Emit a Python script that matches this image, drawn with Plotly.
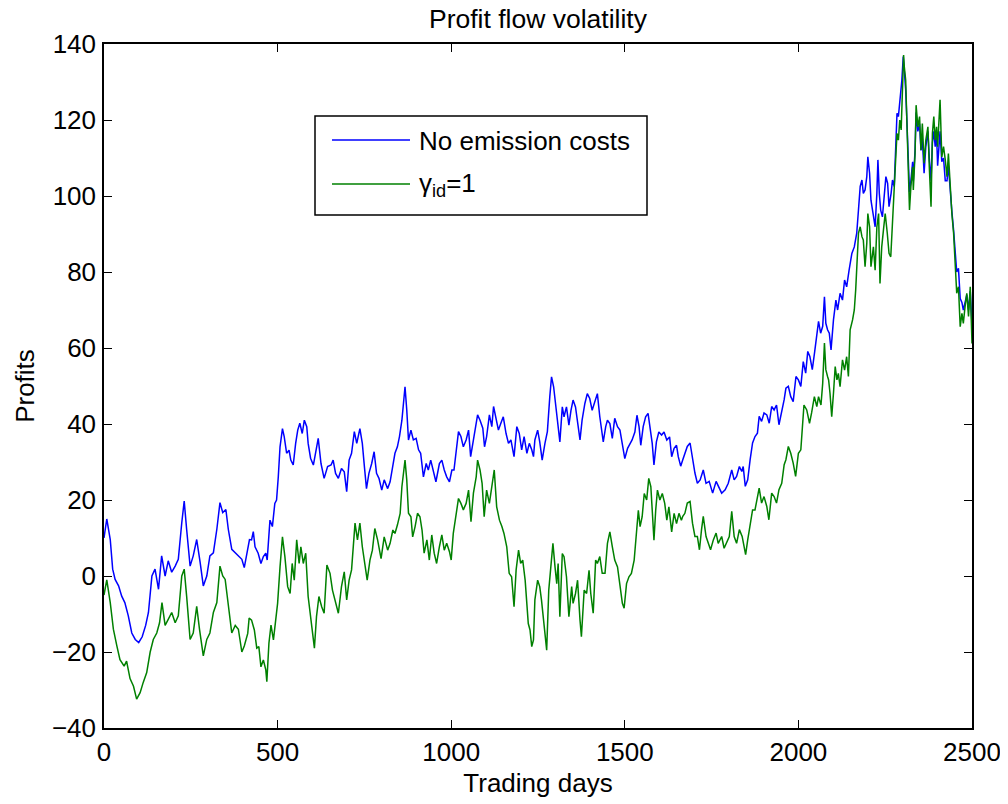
import plotly.graph_objects as go

# ---------------- data ----------------
blue_days = [0, 8, 18, 25, 32, 42, 51, 60, 70, 80, 90, 100, 110, 120, 128, 138, 147, 157, 166, 176, 185, 195, 205, 214, 224, 231, 238, 248, 257, 267, 277, 286, 296, 305, 315, 325, 334, 342, 351, 358, 368, 378, 387, 397, 404, 411, 419,
             425, 430, 435, 444, 452, 459, 466, 470, 478, 485, 492, 497, 502, 507, 514, 519, 526, 533, 538, 545, 552, 558, 564, 571, 577, 584, 588, 595, 603, 610, 617, 625, 634, 644, 654, 660, 667, 675, 684, 692, 699, 706, 713, 721, 728, 737, 744, 750, 756, 763, 771, 778, 785, 792, 800, 807, 817, 824,
             832, 838, 845, 851, 858, 862, 867, 872, 877, 884, 891, 899, 906, 912, 920, 928, 934, 941, 949, 956, 966, 973, 980, 987, 995, 1002, 1008, 1016, 1021, 1028, 1035, 1043, 1050, 1056, 1064, 1072, 1076, 1083, 1091, 1096, 1102, 1110, 1117, 1122, 1129, 1136, 1143, 1150, 1158, 1165, 1172, 1181, 1189, 1196, 1203, 1210, 1218, 1225, 1232, 1237,
             1241, 1249, 1255, 1262, 1270, 1277, 1284, 1289, 1295, 1301, 1306, 1313, 1320, 1325, 1332, 1339, 1345, 1351, 1358, 1364, 1371, 1377, 1385, 1392, 1399, 1406, 1414, 1421, 1428, 1438, 1445, 1450, 1457, 1464, 1471, 1479, 1486, 1493, 1500, 1508, 1515, 1521, 1529, 1535, 1541, 1546, 1553, 1560, 1567, 1575, 1579, 1584, 1591, 1598, 1606, 1613, 1621, 1629, 1635, 1642, 1649, 1654,
             1661, 1667, 1673, 1680, 1688, 1695, 1702, 1709, 1717, 1726, 1734, 1743, 1753, 1763, 1769, 1779, 1789, 1798, 1808, 1815, 1822, 1830, 1837, 1841, 1847, 1854, 1861, 1868, 1875, 1882, 1887, 1894, 1901, 1909, 1916, 1923, 1930, 1937, 1944, 1952, 1959, 1964, 1971, 1978, 1985, 1993, 2000, 2007, 2014, 2021, 2027, 2033, 2040, 2047, 2053, 2058, 2064, 2070, 2075, 2079,
             2084, 2089, 2094, 2101, 2108, 2113, 2120, 2127, 2133, 2139, 2146, 2154, 2161, 2168, 2173, 2178, 2183, 2187, 2192, 2197, 2200, 2205, 2209, 2216, 2221, 2226, 2229, 2233, 2237, 2242, 2246, 2252, 2257, 2261, 2267, 2271, 2276, 2281, 2284, 2288, 2293, 2298, 2302,
             2305, 2309, 2312, 2317, 2320, 2324, 2329, 2331, 2336, 2339, 2344, 2349, 2353, 2357, 2362, 2367, 2373, 2377, 2382, 2386, 2390, 2394, 2398, 2401, 2405, 2408, 2413, 2418, 2423, 2428, 2432, 2437, 2442, 2447, 2451, 2456, 2461, 2466, 2471, 2475, 2480, 2485, 2490, 2495, 2500]
blue_profit = [10, 15, 9.6, 1.8, -0.9, -2.6, -5.3, -7, -10.5, -15, -16.7, -17.5, -16, -13, -9.6, 0, 1.8, -3.5, 5.3, 0, 4, 1, 2.6, 4.4, 14, 19.7, 12.3, 2.6, 5.3, 9.6, 3.5, -2.6, 0, 5.3, 6.1, 12.3, 19.3, 16.7, 17.5, 12.3, 7, 6.1, 5.3, 4.4, 2.2, 6.1, 9.6,
               9.5, 11.7, 7.7, 6, 3.3, 5.1, 6, 4.2, 14.7, 13, 19.1, 20, 26.1, 34, 38.8, 36.7, 32.3, 33.1, 30.5, 29.2, 34.9, 38.4, 40.2, 37.5, 41, 39.3, 34.9, 31, 29.2, 32.3, 36.2, 29.6, 25.7, 28.8, 29.2, 30.5, 27, 25.7, 28.3, 27.4, 22.2, 30.5, 32.3, 38, 34.9, 38.8, 34.9, 28.8, 23, 27, 29.6, 32.7, 27, 25.7, 22.6, 25.3, 23, 24.8,
               28.8, 32.3, 34, 36.7, 41, 45.4, 49.8, 43.7, 35.8, 38.4, 35.8, 36.2, 33.2, 32.3, 26.1, 29.6, 27.9, 30.5, 27, 24.8, 29.6, 30.5, 27.9, 26.1, 24.8, 27.9, 27.9, 34.9, 38, 36.7, 34, 35.8, 38.4, 31.4, 35.8, 39.3, 42.4, 41, 38.9, 34, 36.7, 42.4, 39.3, 44.6, 41, 38.4, 40.2, 41.9, 37.5, 34.9, 35.8, 31.4, 39.3, 37.5, 33.2, 36.7, 32.3, 34.9, 33.2, 31.4,
               35.8, 38.4, 35.3, 30.5, 34.9, 38, 47.2, 52.4, 49.8, 44.5, 41, 35.3, 44.5, 41.9, 44.5, 39.7, 43.6, 46.3, 44.5, 41, 35.8, 41, 45.4, 48, 46.7, 43.6, 45.8, 48, 41.9, 35.3, 39.3, 41, 40.1, 36.2, 41.5, 39.3, 38.4, 34.9, 30.9, 33.6, 34.9, 35.8, 37.9, 42.3, 39.3, 34.4, 39.3, 41.9, 42.8, 37.5, 34.9, 29.2, 35.3, 37.9, 37.1, 37.9, 35.8, 36.6, 31.4, 33.6, 34.4, 31.4,
               28.9, 30.6, 32.3, 34.1, 35, 30.6, 27.1, 24.4, 25.3, 27.9, 24.4, 24.9, 21.8, 24.9, 23.6, 21.8, 22.7, 24.4, 27.9, 25.3, 26.2, 28.8, 27.5, 28.8, 23.6, 25.3, 30.6, 35, 36.7, 37.6, 42, 40.7, 42.9, 42.4, 40.2, 44.6, 43.7, 45, 39.8, 42.9, 46.4, 49.4, 49.9, 47.2, 45.9, 52.5, 51.6, 49.9, 56.4, 53.4, 59.1, 57.8, 54.3, 59.1, 63.9, 67, 63.9, 65.7, 73.5, 66.5,
               64.8, 63.9, 59.5, 67.4, 72.6, 70, 74.4, 72.6, 77.9, 76.1, 80.5, 84.9, 86.6, 90.2, 96.3, 102.5, 104.2, 100.7, 101.6, 105.1, 110.3, 106, 98.9, 95.4, 91.9, 100.7, 109.5, 100.7, 96.3, 94.5, 98.9, 105.1, 103.3, 97.2, 100.7, 104.2, 102.5, 114.7, 121.8, 120.9, 125.3, 130.5, 136.7,
               133, 128, 121, 109, 101, 104, 109, 104, 112, 122, 117, 119, 112, 115, 106, 113, 117, 110, 104, 114, 117, 113, 116, 108, 114, 117, 109, 110, 104, 104, 108, 101, 96, 91, 85, 80, 81, 73, 72, 70, 72, 74, 70, 75, 66]

green_days = [0, 8, 18, 27, 37, 46, 58, 65, 75, 85, 94, 104, 113, 123, 133, 142, 152, 160, 167, 176, 185, 195, 205, 214, 224, 231, 238, 248, 257, 267, 275, 286, 296, 305, 315, 325, 334, 342, 349, 358, 368, 378, 387, 397, 404,
              414, 418, 425, 433, 440, 446, 452, 459, 466, 469, 475, 481, 488, 494, 500, 507, 514, 521, 529, 536, 542, 548, 555, 562, 567, 574, 581, 588, 596, 606, 612, 619, 627, 634, 642, 651, 658, 665, 675, 684, 692, 699, 706, 713, 723, 730, 737, 744, 752, 758, 766, 773, 780, 788, 798, 807, 817, 824,
              832, 838, 845, 853, 858, 862, 867, 872, 877, 884, 889, 896, 903, 910, 916, 922, 930, 937, 944, 951, 958, 966, 973, 980, 987, 995, 1000, 1006, 1014, 1021, 1028, 1035, 1043, 1050, 1057, 1064, 1072, 1076, 1083, 1089, 1095, 1102, 1110, 1117, 1124, 1131, 1139, 1146, 1152, 1160, 1167, 1174, 1181, 1187, 1194, 1200, 1206, 1213, 1218, 1222, 1227, 1232, 1237,
              1241, 1249, 1255, 1260, 1268, 1275, 1281, 1287, 1293, 1299, 1304, 1308, 1313, 1320, 1325, 1332, 1339, 1347, 1351, 1358, 1364, 1371, 1375, 1383, 1390, 1397, 1402, 1409, 1416, 1421, 1428, 1435, 1443, 1450, 1457, 1464, 1471, 1479, 1486, 1493, 1498, 1505, 1512, 1519, 1527, 1534, 1539, 1544, 1550, 1556, 1563, 1569, 1575, 1579, 1584, 1589, 1594, 1601, 1608, 1615, 1621, 1627, 1635, 1642, 1649, 1656,
              1663, 1667, 1673, 1680, 1688, 1695, 1702, 1709, 1715, 1721, 1726, 1734, 1741, 1747, 1755, 1763, 1769, 1779, 1786, 1793, 1801, 1808, 1815, 1822, 1830, 1838, 1843, 1848, 1854, 1861, 1868, 1875, 1882, 1887, 1894, 1901, 1909, 1915, 1923, 1930, 1937, 1944, 1952, 1959, 1964, 1971, 1978, 1985, 1992, 2000, 2007, 2012, 2016, 2024, 2032, 2038, 2046, 2053, 2058, 2065, 2070, 2075, 2079,
              2084, 2087, 2091, 2096, 2101, 2106, 2111, 2115, 2120, 2127, 2133, 2139, 2144, 2149, 2156, 2161, 2165, 2169, 2173, 2178, 2183, 2187, 2192, 2197, 2200, 2205, 2209, 2216, 2221, 2226, 2231, 2235, 2240, 2245, 2250, 2256, 2261, 2266, 2271, 2276, 2281, 2284, 2288, 2292, 2296, 2300, 2303,
              2305, 2309, 2312, 2317, 2320, 2324, 2329, 2331, 2336, 2339, 2344, 2349, 2353, 2357, 2362, 2367, 2373, 2377, 2382, 2386, 2390, 2394, 2398, 2401, 2405, 2408, 2413, 2418, 2423, 2428, 2432, 2437, 2442, 2447, 2451, 2456, 2461, 2466, 2471, 2475, 2480, 2485, 2490, 2495, 2500]
green_profit = [-5, -1, -7, -14, -18.4, -22, -23.7, -22.4, -27, -29, -32.4, -30.7, -28, -25.4, -20, -16.7, -15, -12.3, -7, -13, -11.4, -9.6, -12.3, -10.5, 0, 1.8, -5.3, -16.7, -15, -8, -14, -21, -16.7, -15, -9.6, -7, 2.6, 0, -0.9, -8, -15, -13, -14, -20, -18.4,
                -15.1, -11.1, -11.6, -14.2, -19, -18.6, -23.9, -22.1, -24.7, -27.8, -17.7, -12.9, -16.8, -11.6, -7.2, 2.4, 10.3, 5.1, -2.8, -4.6, 3.3, -1.1, 9.5, 3.3, 7.7, 3.3, 6, -5.4, -11.6, -19, -10.7, -5.4, -8.1, -9.8, 2.9, 0.7, -3.7, -6.3, -9.8, -2.8, 1.1, -6.3, -1.1, 1.6, 13.9, 9.5, 13.9, 7.7, 2.4, -1.1, 4.2, 6.8, 12.5, 9.5, 4.6, 10.3, 6.8, 8.6,
                12.1, 11.2, 13.4, 16.5, 23.5, 27, 30.5, 25.3, 16.5, 15.6, 10.3, 13, 16.5, 15.6, 12.1, 6, 9.5, 4.2, 10.8, 6, 3.3, 7.7, 10.8, 6.8, 8.6, 6.4, 4.2, 11.2, 15.6, 20.4, 19.1, 17.4, 19.1, 22.6, 14.3, 21.8, 26.1, 30.5, 27.9, 24.4, 15.6, 22.6, 19.1, 23.5, 27.9, 18.2, 14.7, 13, 11.2, 7.7, 0.7, -0.2, -8.1, 1.6, 6.8, 3.3, 4.2, -1.1, -7.2, -12.5, -14.2, -18.6, -16.8,
                -6.3, -1.1, -2.8, -6.3, -12.5, -19.5, -3.7, 3.3, 8.6, 2.4, -2, 3.3, -10.7, 5.9, 5.1, -0.2, -10.7, -2.8, -7.2, -4.6, -1.1, -11.6, -16, -3.7, -4.6, 1.5, -4.6, -9.8, 4.2, 3.3, 5.1, 0.7, 0.7, 8.6, 11.6, 7.7, 4.2, 2.4, -2.8, -7.2, -8.5, -2, -0.2, 0.7, 4.2, 11.2, 17.3, 13, 15.6, 21.7, 20, 25.7, 23.5, 17.3, 9.4, 17.3, 22.6, 20, 21.7, 19.1, 14.7, 18.2, 11.6, 16.5, 13.8, 16.5,
                14.7, 15.7, 16.5, 19.2, 19.6, 13.9, 10.4, 10.4, 6.9, 12.2, 15.7, 10.4, 8.6, 6.9, 9.5, 11.3, 8.6, 10.4, 7.3, 8.6, 10.4, 17, 10.4, 8.6, 12.2, 10.4, 7.8, 5.6, 9.5, 13.9, 17.4, 17.4, 20.9, 23.1, 19.2, 20.9, 18.3, 14.8, 21.8, 20.9, 19.2, 22.7, 24.4, 29.3, 30.6, 34.1, 32.3, 29.7, 26.2, 32.3, 33.2, 38.5, 45, 43.7, 40.2, 42.9, 47.2, 44.6, 47.2, 45, 50.7, 61.3, 54.3,
                52.5, 51.6, 48.1, 41.9, 48.1, 55.1, 51.6, 53.3, 49.8, 56.9, 54.2, 57.7, 52.5, 64.8, 67.4, 70, 75.3, 84, 90.2, 91.9, 89.3, 88.4, 81.4, 87.6, 95.4, 91.9, 81.4, 86.6, 80.5, 91.9, 95.4, 77, 86.6, 91.1, 95.4, 90.2, 84.9, 84, 92.8, 100.7, 107.7, 116.5, 114.7, 120, 117.4, 130.5, 137.1,
                134, 130.5, 120.9, 107.7, 96.3, 102.5, 107.7, 101.6, 111.2, 123.9, 118.2, 120.9, 112.1, 119.1, 108.6, 114.7, 118.2, 107.7, 97.2, 116.5, 120.9, 114.7, 118.2, 113, 119.1, 125.3, 110.3, 113, 109.5, 105.1, 111.2, 101.6, 95.4, 90.2, 83.2, 74.4, 76.1, 65.6, 69.1, 66.5, 70.9, 74.4, 68.3, 76.1, 61.2]

series_names = ["No emission costs", "γ<sub>id</sub>=1"]
x_ticks = [0, 500, 1000, 1500, 2000, 2500]
y_ticks = [-40, -20, 0, 20, 40, 60, 80, 100, 120, 140]

# ---------------- figure ----------------
FONT = "Liberation Sans, Arial, Helvetica, sans-serif"
BLUE = "#0000ff"
GREEN = "#008000"
FS = 26

fig = go.Figure()
fig.add_trace(go.Scatter(x=blue_days, y=blue_profit, mode="lines",
                         line=dict(color=BLUE, width=1.5), name="No emission costs", showlegend=False))
fig.add_trace(go.Scatter(x=green_days, y=green_profit, mode="lines",
                         line=dict(color=GREEN, width=1.5), name="gamma_id=1", showlegend=False))

axis_common = dict(showline=True, linecolor="black", linewidth=1.5, mirror="ticks",
                   ticks="inside", ticklen=8, tickwidth=1.2, tickcolor="black",
                   showgrid=False, zeroline=False, automargin=False,
                   tickfont=dict(family=FONT, size=FS, color="black"))

fig.update_xaxes(range=[0, 2500], tickvals=x_ticks, **axis_common,
                 title=dict(text="Trading days", font=dict(family=FONT, size=FS, color="black"), standoff=8))
fig.update_yaxes(range=[-40, 140], tickvals=y_ticks, **axis_common, ticklabelstandoff=1,
                 title=dict(text="Profits", font=dict(family=FONT, size=FS, color="black"), standoff=10))

# manual legend box (MATLAB style); positions relative to the plot area
def px2x(p):
    return (p - 104) / 868.0

def py2y(p):
    return (728 - p) / 684.0

shapes = [
    dict(type="rect", xref="paper", yref="paper", x0=px2x(315), x1=px2x(647), y0=py2y(215), y1=py2y(116),
         line=dict(color="black", width=1.5), fillcolor="white", layer="above"),
    dict(type="line", xref="paper", yref="paper", x0=px2x(332), x1=px2x(410), y0=py2y(140), y1=py2y(140),
         line=dict(color=BLUE, width=1.3), layer="above"),
    dict(type="line", xref="paper", yref="paper", x0=px2x(332), x1=px2x(410), y0=py2y(184), y1=py2y(184),
         line=dict(color=GREEN, width=1.3), layer="above"),
]
annotations = [
    dict(text=series_names[0], xref="paper", yref="paper", x=px2x(417), y=py2y(141),
         xanchor="left", yanchor="middle", showarrow=False, font=dict(family=FONT, size=FS, color="black")),
    dict(text=series_names[1], xref="paper", yref="paper", x=px2x(417), y=py2y(184),
         xanchor="left", yanchor="middle", showarrow=False, font=dict(family=FONT, size=FS, color="black")),
]

# page body adds an 8 px offset; margins compensate so the plot area sits at x 104-972, y 44-728
fig.update_layout(
    width=1008, height=804,
    margin=dict(l=96, r=44, t=36, b=84, autoexpand=False),
    paper_bgcolor="white", plot_bgcolor="white",
    title=dict(text="Profit flow volatility", x=0.5, xref="paper", yref="container", y=1 - 11 / 804,
               yanchor="middle", automargin=False,
               font=dict(family=FONT, size=26.5, color="black")),
    shapes=shapes, annotations=annotations,
    showlegend=False,
)

fig.write_html("out.html")
